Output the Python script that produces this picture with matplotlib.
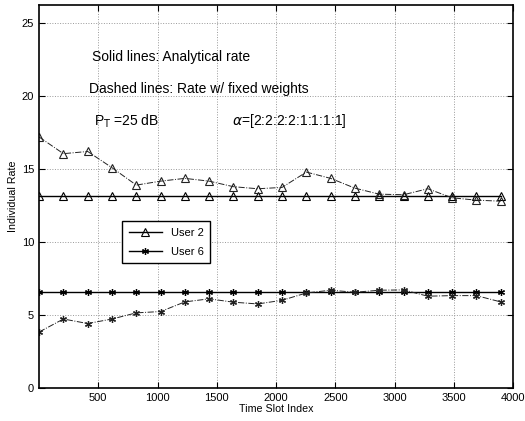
import numpy as np
import matplotlib.pyplot as plt

plt.rcParams['font.family'] = ['Liberation Sans', 'DejaVu Sans']

# time slot indices of the samples
slots = np.arange(1, 4000, 205)

# user 2: analytical rate and rate with fixed weights
user2_analytical = [13.1] * 20
user2_fixed = [17.17, 16.03, 16.18, 15.07, 13.88, 14.15, 14.34, 14.15, 13.77, 13.63,
               13.72, 14.77, 14.34, 13.67, 13.26, 13.22, 13.63, 13.01, 12.85, 12.78]

# user 6: analytical rate and rate with fixed weights
user6_analytical = [6.55] * 20
user6_fixed = [3.83, 4.72, 4.41, 4.72, 5.14, 5.23, 5.89, 6.10, 5.87, 5.75,
               6.00, 6.50, 6.69, 6.55, 6.69, 6.71, 6.28, 6.32, 6.32, 5.89]

star = (6, 2, 0)

fig = plt.figure(figsize=(5.25, 4.21), dpi=100)
ax = fig.add_axes([39 / 525, 1 - 388 / 421, 474 / 525, 383 / 421])

ax.plot(slots, user2_analytical, 'k-', marker='^', mfc='none', ms=5.5, mew=0.8, lw=1.0, label='User 2')
ax.plot(slots, user6_analytical, 'k-', marker=star, ms=5, mew=0.9, lw=1.0, label='User 6')
ax.plot(slots, user2_fixed, '-.', color='#222222', marker='^', mfc='none', ms=5.5, mew=0.8, lw=0.7)
ax.plot(slots, user6_fixed, '-.', color='#222222', marker=star, ms=5, mew=0.9, lw=0.7)

ax.set_xlim(0, 4000)
ax.set_ylim(0, 26.2)
ax.set_xticks([500, 1000, 1500, 2000, 2500, 3000, 3500, 4000])
ax.set_yticks([0, 5, 10, 15, 20, 25])
ax.tick_params(direction='in', top=True, right=True, labelsize=8, length=4)
ax.grid(True, linestyle=':', color='#999999', lw=0.7)
for s in ax.spines.values():
    s.set_linewidth(1.2)

ax.set_xlabel('Time Slot Index', fontsize=7.7, labelpad=1)
ax.set_ylabel('Individual Rate', fontsize=7.7, labelpad=3)

ax.text(451, 22.37, 'Solid lines: Analytical rate', fontsize=10)
ax.text(426, 20.16, 'Dashed lines: Rate w/ fixed weights', fontsize=10)
ax.text(463, 17.96, r'P$_{\rm T}$ =25 dB', fontsize=10)
ax.text(1630, 17.96, r'$\alpha$=[2:2:2:2:1:1:1:1]', fontsize=10)

ax.legend(loc='upper left', bbox_to_anchor=(83 / 474, 1 - 216 / 383), fontsize=8, frameon=True,
          fancybox=False, edgecolor='black', framealpha=1, handlelength=3.0,
          borderpad=0.6, labelspacing=0.8, borderaxespad=0)

fig.savefig('out.png', dpi=100)
